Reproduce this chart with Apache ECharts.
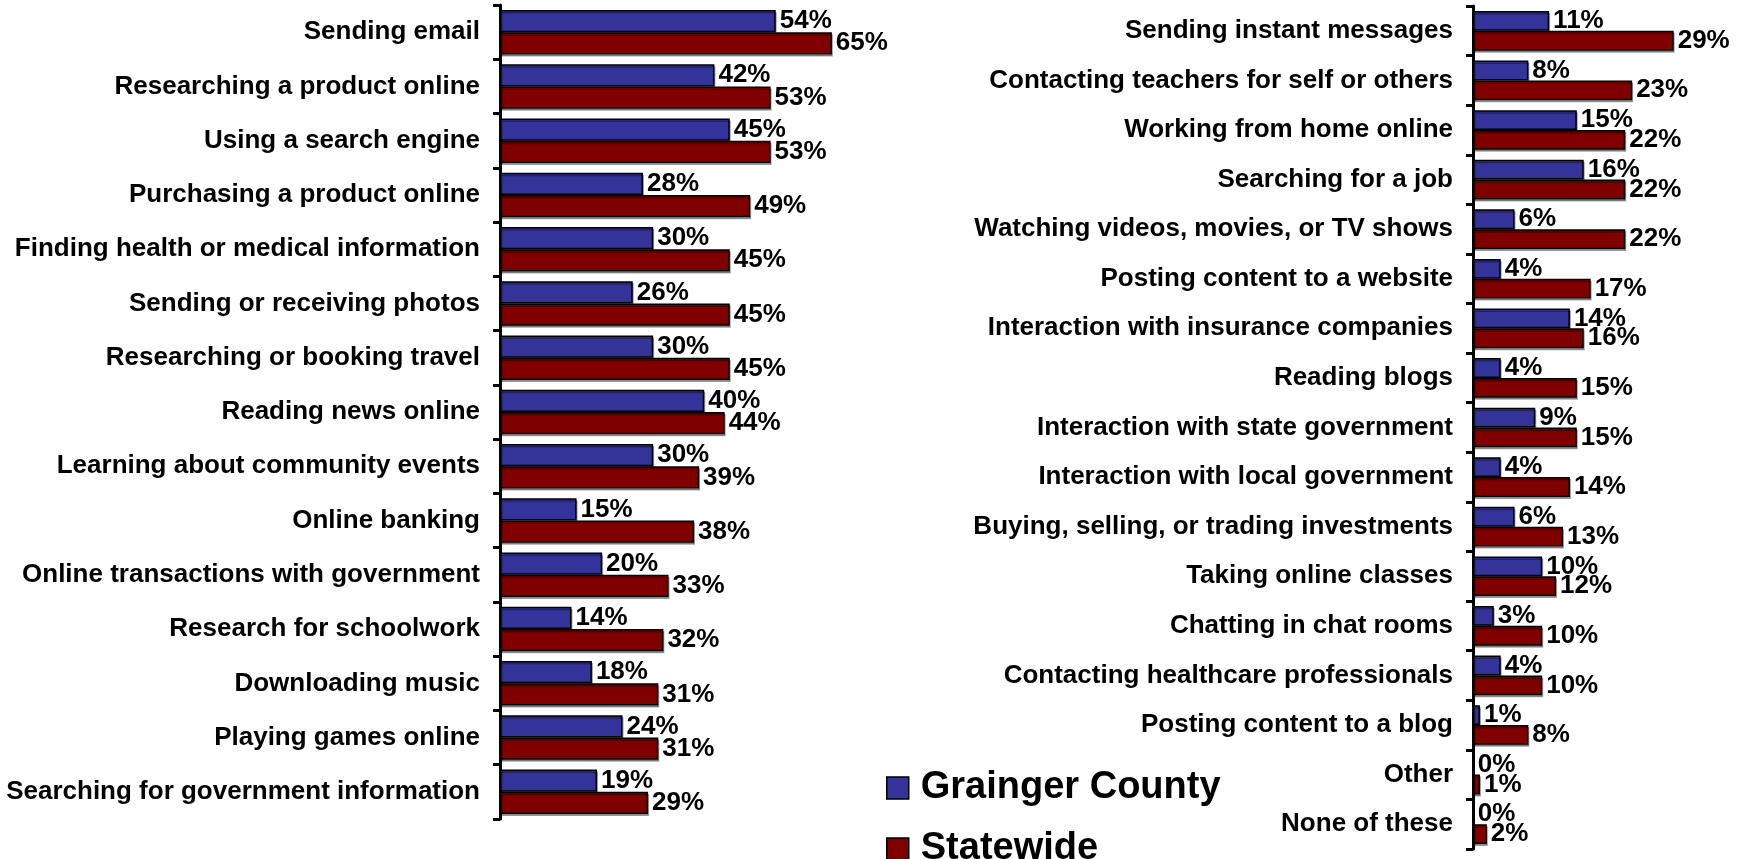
<!DOCTYPE html>
<html>
<head>
<meta charset="utf-8">
<script src="https://cdn.jsdelivr.net/npm/echarts@6/dist/echarts.min.js"></script>
<style>
  html, body { margin: 0; padding: 0; background: #fff; }
  #chart { width: 1742px; height: 859px; }
</style>
</head>
<body>
<div id="chart"></div>
<script>
// 左侧：常见的上网活动
const leftCategories = [
    'Sending email', 'Researching a product online', 'Using a search engine',
    'Purchasing a product online', 'Finding health or medical information',
    'Sending or receiving photos', 'Researching or booking travel', 'Reading news online',
    'Learning about community events', 'Online banking', 'Online transactions with government',
    'Research for schoolwork', 'Downloading music', 'Playing games online',
    'Searching for government information'
];
const leftCounty = [54, 42, 45, 28, 30, 26, 30, 40, 30, 15, 20, 14, 18, 24, 19];
const leftState = [65, 53, 53, 49, 45, 45, 45, 44, 39, 38, 33, 32, 31, 31, 29];

// 右侧：其余活动
const rightCategories = [
    'Sending instant messages', 'Contacting teachers for self or others',
    'Working from home online', 'Searching for a job', 'Watching videos, movies, or TV shows',
    'Posting content to a website', 'Interaction with insurance companies', 'Reading blogs',
    'Interaction with state government', 'Interaction with local government',
    'Buying, selling, or trading investments', 'Taking online classes', 'Chatting in chat rooms',
    'Contacting healthcare professionals', 'Posting content to a blog', 'Other', 'None of these'
];
const rightCounty = [11, 8, 15, 16, 6, 4, 14, 4, 9, 4, 6, 10, 3, 4, 1, 0, 0];
const rightState = [29, 23, 22, 22, 22, 17, 16, 15, 15, 14, 13, 12, 10, 10, 8, 1, 2];

const seriesNames = ['Grainger County', 'Statewide'];
const colors = ['#333399', '#800000'];

const FONT = '"Liberation Sans", Arial, sans-serif';

function catAxis(gridIndex, data) {
    return {
        type: 'category',
        gridIndex: gridIndex,
        data: data,
        inverse: true,
        axisLine: { show: true, lineStyle: { color: '#000', width: 3 } },
        axisTick: { show: true, length: 7, lineStyle: { color: '#000', width: 3 } },
        axisLabel: {
            margin: 20,
            color: '#000',
            fontFamily: FONT,
            fontWeight: 'bold',
            fontSize: 26
        }
    };
}

function valAxis(gridIndex, max) {
    return {
        type: 'value',
        gridIndex: gridIndex,
        min: 0,
        max: max,
        show: false,
        splitLine: { show: false }
    };
}

function barSeries(idx, gridIndex, values, gap) {
    return {
        name: seriesNames[idx],
        type: 'bar',
        xAxisIndex: gridIndex,
        yAxisIndex: gridIndex,
        data: values,
        barGap: '0%',
        barCategoryGap: gap,
        itemStyle: {
            color: colors[idx],
            borderColor: '#000',
            borderWidth: 1.5,
            shadowColor: 'rgba(0,0,0,0.35)',
            shadowOffsetX: 1,
            shadowOffsetY: 2
        },
        label: {
            show: true,
            position: 'right',
            distance: 4,
            formatter: '{c}%',
            color: '#000',
            fontFamily: FONT,
            fontWeight: 'bold',
            fontSize: 26
        },
        emphasis: { disabled: true }
    };
}

// 图例：两项分开摆放，避免自动换列
function legendItem(idx, top) {
    return {
        data: [seriesNames[idx]],
        left: 886,
        top: top,
        padding: 0,
        itemWidth: 22,
        itemHeight: 22,
        icon: 'rect',
        textStyle: {
            color: '#000',
            fontFamily: FONT,
            fontWeight: 'bold',
            fontSize: 38,
            lineHeight: 40,
            padding: [0, 0, 0, 7]
        },
        itemStyle: { borderColor: '#000', borderWidth: 1.5 }
    };
}

const chart = echarts.init(document.getElementById('chart'));
chart.setOption({
    animation: false,
    grid: [
        { left: 500, top: 5, width: 357.4, height: 814 },
        { left: 1473, top: 6, width: 207.6, height: 843 }
    ],
    xAxis: [valAxis(0, 70), valAxis(1, 30)],
    yAxis: [catAxis(0, leftCategories), catAxis(1, rightCategories)],
    legend: [legendItem(0, 768), legendItem(1, 829)],
    series: [
        barSeries(0, 0, leftCounty, '18%'),
        barSeries(1, 0, leftState, '18%'),
        barSeries(0, 1, rightCounty, '20%'),
        barSeries(1, 1, rightState, '20%')
    ]
});
</script>
</body>
</html>
